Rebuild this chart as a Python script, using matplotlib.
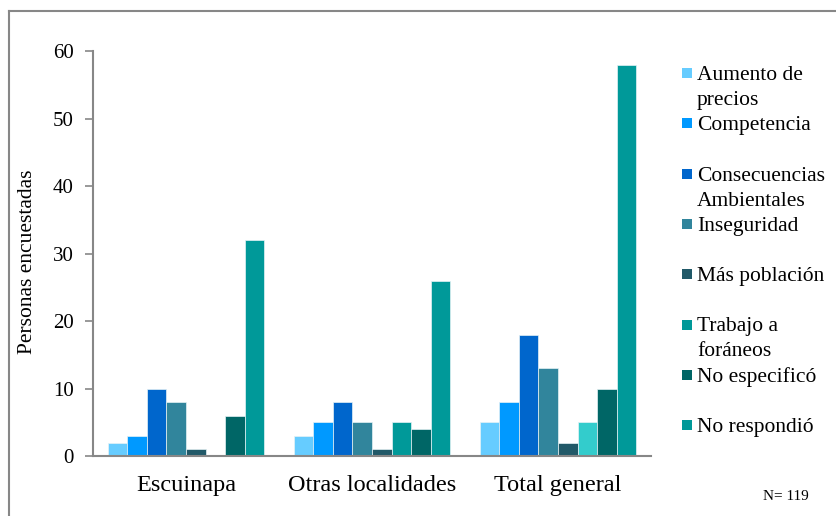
import matplotlib
matplotlib.use("Agg")
import matplotlib.pyplot as plt
from matplotlib.patches import Rectangle
from matplotlib.lines import Line2D
import numpy as np

plt.rcParams['font.family'] = ['Liberation Serif', 'DejaVu Serif']

categories = ["Escuinapa", "Otras localidades", "Total general"]
series = ["Aumento de\nprecios", "Competencia", "Consecuencias\nAmbientales",
          "Inseguridad", "Más población", "Trabajo a\nforáneos",
          "No especificó", "No respondió"]
values = [
    [2, 3, 5],     # Aumento de precios
    [3, 5, 8],     # Competencia
    [10, 8, 18],   # Consecuencias Ambientales
    [8, 5, 13],    # Inseguridad
    [1, 1, 2],     # Más población
    [0, 5, 5],     # Trabajo a foráneos
    [6, 4, 10],    # No especificó
    [32, 26, 58],  # No respondió
]
colors = ["#66CCFF", "#0099FF", "#0066CC", "#31859C", "#215968",
          "#009999", "#006666", "#009999"]
# the Total general bar for "Trabajo a foráneos" is drawn in a lighter teal
bar_colors = [[c, c, c] for c in colors]
bar_colors[5][2] = "#33CCCC"

W, H = 836, 516
fig = plt.figure(figsize=(W / 100, H / 100), dpi=100)
ax = fig.add_axes([93 / W, 1 - 456 / H, (651 - 93) / W, (456 - 51) / H])

x = np.arange(len(categories))
w = 0.105
n = len(series)
for j in range(n):
    ax.bar(x + (j - (n - 1) / 2) * w, values[j], width=w,
           color=bar_colors[j], edgecolor="#E6F2F5", linewidth=0.5)

ax.set_xlim(-0.5, len(categories) - 0.5)
ax.set_ylim(0, 60)
ax.set_yticks(np.arange(0, 61, 10))
ax.set_xticks(x)
ax.set_xticklabels(categories, fontsize=17.5)
ax.tick_params(axis='x', length=0, pad=14)
ax.tick_params(axis='y', length=6, width=1.2, color="#878787", labelsize=15, pad=8)
for s in ["top", "right"]:
    ax.spines[s].set_visible(False)
for s in ["left", "bottom"]:
    ax.spines[s].set_color("#878787")
    ax.spines[s].set_linewidth(1.5)

fig.text(28 / W, 1 - 262 / H, "Personas encuestadas", rotation=90,
         ha="center", va="center", fontsize=15.5)

# legend (manual, Excel-like slots)
y0, slot, line_h = 73, 50.3, 25
for j, lab in enumerate(series):
    yc = y0 + j * slot
    fig.patches.append(Rectangle((682 / W, 1 - (yc + 5) / H), 10 / W, 10 / H,
                                 transform=fig.transFigure, facecolor=colors[j],
                                 edgecolor="none"))
    for k, line in enumerate(lab.split("\n")):
        fig.text(697 / W, 1 - (yc + k * line_h) / H, line, ha="left",
                 va="center_baseline", fontsize=15.5)

fig.text(786 / W, 1 - 497 / H, "N= 119", ha="center", va="center", fontsize=11)

# outer frame
fig.add_artist(Line2D([9 / W, 9 / W], [0, 1 - 11 / H], transform=fig.transFigure,
                      color="#878787", lw=1.5))
fig.add_artist(Line2D([9 / W, 1], [1 - 11 / H, 1 - 11 / H], transform=fig.transFigure,
                      color="#878787", lw=1.5))

fig.savefig("out.png", dpi=100)
